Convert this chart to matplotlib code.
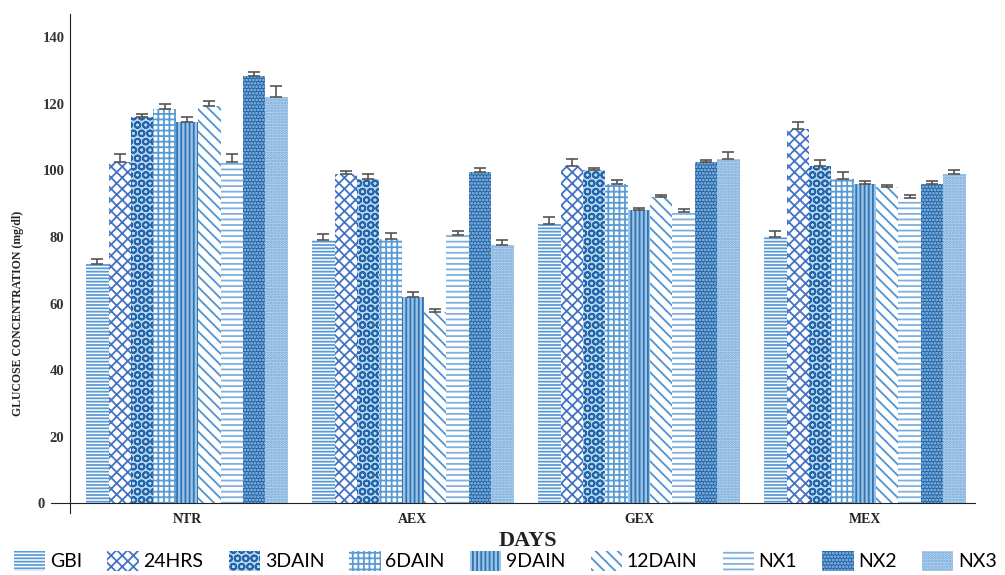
import matplotlib
matplotlib.use("Agg")
import matplotlib.pyplot as plt
import numpy as np
from matplotlib.patches import Patch
from matplotlib.transforms import ScaledTranslation

groups = ["NTR", "AEX", "GEX", "MEX"]
series = ["GBI", "24HRS", "3DAIN", "6DAIN", "9DAIN", "12DAIN", "NX1", "NX2", "NX3"]

# values per series across groups NTR, AEX, GEX, MEX
gbi    = [72.0, 79.0, 84.0, 80.0]
hrs24  = [102.5, 99.0, 101.5, 112.5]
dain3  = [116.0, 97.5, 100.0, 101.5]
dain6  = [118.5, 79.5, 95.8, 97.5]
dain9  = [114.7, 62.0, 88.0, 96.0]
dain12 = [119.5, 57.5, 92.0, 95.0]
nx1    = [102.5, 80.5, 87.5, 91.8]
nx2    = [128.5, 99.5, 102.5, 96.0]
nx3    = [122.0, 77.5, 103.5, 99.0]

gbi_err    = [1.5, 1.8, 2.0, 1.8]
hrs24_err  = [2.5, 0.8, 2.0, 2.2]
dain3_err  = [1.0, 1.3, 0.8, 1.8]
dain6_err  = [1.5, 1.8, 1.2, 2.0]
dain9_err  = [1.3, 1.5, 0.8, 0.8]
dain12_err = [1.5, 0.8, 0.6, 0.6]
nx1_err    = [2.5, 1.2, 0.8, 0.8]
nx2_err    = [1.0, 1.2, 0.8, 0.8]
nx3_err    = [3.5, 1.5, 2.0, 1.0]

values = [gbi, hrs24, dain3, dain6, dain9, dain12, nx1, nx2, nx3]
errors = [gbi_err, hrs24_err, dain3_err, dain6_err, dain9_err, dain12_err,
          nx1_err, nx2_err, nx3_err]

yticks = [0, 20, 40, 60, 80, 100, 120, 140]

styles = [
    dict(facecolor="white",   edgecolor="#5b9bd5", hatch="-----"),
    dict(facecolor="white",   edgecolor="#4472c4", hatch="xxx"),
    dict(facecolor="#bdd7ee", edgecolor="#2166ab", hatch="OO"),
    dict(facecolor="white",   edgecolor="#5b9bd5", hatch="+++"),
    dict(facecolor="#9dc3e6", edgecolor="#2e75b6", hatch="||||"),
    dict(facecolor="white",   edgecolor="#4f93d2", hatch="\\\\\\"),
    dict(facecolor="white",   edgecolor="#7fb0de", hatch="---"),
    dict(facecolor="#2266aa", edgecolor="#9dc3e6", hatch="....."),
    dict(facecolor="#bdd7ee", edgecolor="#6fa6da", hatch="......"),
]

plt.rcParams["hatch.linewidth"] = 1.3

fig = plt.figure(figsize=(10.05, 5.75), dpi=100)
ax = fig.add_axes([0.0511, 0.1078, 0.919, 0.8675])

x = np.arange(len(groups))
w = 0.099
for i, (vals, errs, st) in enumerate(zip(values, errors, styles)):
    pos = x + (i - 4) * w
    ax.bar(pos, vals, width=w, linewidth=0, **st)
    ax.errorbar(pos, vals, yerr=[[0]*len(errs), errs], fmt="none",
                ecolor="#555555", elinewidth=1.2, capsize=4, capthick=1.2)

ax.set_xlim(-0.6, 3.487)
ax.set_ylim(-3, 147)
ax.spines["top"].set_visible(False)
ax.spines["right"].set_visible(False)
ax.spines["left"].set_position(("data", -0.518))
ax.spines["bottom"].set_position(("data", 0))
ax.spines["left"].set_color("#222222")
ax.spines["bottom"].set_color("#222222")

ax.set_yticks(yticks)
ax.set_yticklabels([str(t) for t in yticks], fontfamily="Liberation Serif",
                   fontweight="bold", fontsize=10.5, color="#333333")
ax.tick_params(axis="y", length=0, pad=4)
zero_lab = ax.get_yticklabels()[0]
zero_lab.set_transform(zero_lab.get_transform() +
                       ScaledTranslation(-0.2, 0, fig.dpi_scale_trans))
ax.set_xticks(x)
ax.set_xticklabels(groups, fontfamily="Liberation Serif", fontweight="bold",
                   fontsize=10, color="#222222")
ax.tick_params(axis="x", length=0, pad=7)

fig.text(0.018, 0.455, "GLUCOSE CONCENTRATION (mg/dl)", rotation=90,
         ha="center", va="center", fontfamily="Liberation Serif",
         fontweight="bold", fontsize=8.5, color="#222222")
fig.text(0.525, 0.059, "DAYS", ha="center", va="center",
         fontfamily="Liberation Serif", fontweight="bold", fontsize=16,
         color="#222222")

handles = [Patch(linewidth=0, **st) for st in styles]
fig.legend(handles, series, ncol=9, loc="center", bbox_to_anchor=(0.503, 0.025),
           frameon=False, handlelength=1.6, handleheight=1.2, handletextpad=0.25,
           columnspacing=1.3, prop=dict(family="Lato", size=14))

fig.savefig("out.png", dpi=100)
